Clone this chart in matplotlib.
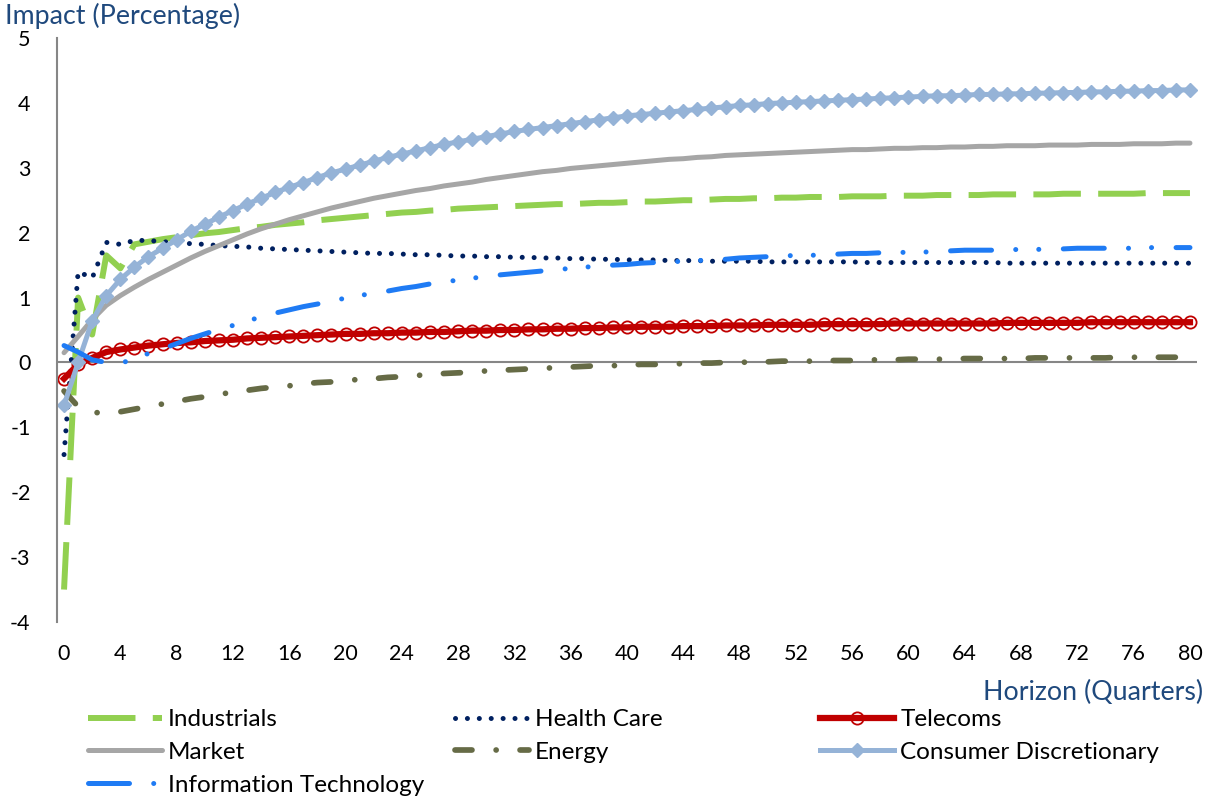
import numpy as np
import matplotlib
matplotlib.use('Agg')
import matplotlib.pyplot as plt

plt.rcParams['font.family'] = ['Lato', 'DejaVu Sans']
plt.rcParams['axes.unicode_minus'] = False

quarters = list(range(81))
xtick_labels = list(range(0, 81, 4))

industrials = [-3.5, 1.0, 0.43, 1.65, 1.45, 1.82, 1.86, 1.9, 1.93, 1.96,
               1.99, 2.01, 2.04, 2.07, 2.09, 2.12, 2.14, 2.16, 2.19, 2.21,
               2.23, 2.25, 2.27, 2.29, 2.31, 2.32, 2.34, 2.35, 2.37, 2.38,
               2.39, 2.4, 2.41, 2.42, 2.43, 2.44, 2.44, 2.45, 2.46, 2.46,
               2.47, 2.48, 2.48, 2.49, 2.5, 2.5, 2.51, 2.52, 2.52, 2.53,
               2.53, 2.54, 2.54, 2.55, 2.55, 2.55, 2.56, 2.56, 2.56, 2.57,
               2.57, 2.57, 2.58, 2.58, 2.58, 2.58, 2.59, 2.59, 2.59, 2.59,
               2.59, 2.6, 2.6, 2.6, 2.6, 2.6, 2.6, 2.61, 2.61, 2.61, 2.61]

health_care = [-1.42, 1.4, 1.3, 1.85, 1.82, 1.88, 1.88, 1.86, 1.85, 1.83,
               1.82, 1.8, 1.79, 1.78, 1.76, 1.75, 1.74, 1.73, 1.72, 1.71,
               1.7, 1.69, 1.68, 1.68, 1.67, 1.66, 1.66, 1.65, 1.64, 1.64,
               1.63, 1.63, 1.62, 1.62, 1.61, 1.61, 1.6, 1.6, 1.59, 1.59,
               1.58, 1.58, 1.58, 1.57, 1.57, 1.57, 1.56, 1.56, 1.56, 1.56,
               1.55, 1.55, 1.55, 1.55, 1.55, 1.55, 1.55, 1.54, 1.54, 1.54,
               1.54, 1.54, 1.54, 1.54, 1.54, 1.54, 1.54, 1.53, 1.53, 1.53,
               1.53, 1.53, 1.53, 1.53, 1.53, 1.53, 1.53, 1.53, 1.53, 1.53, 1.53]

telecoms = [-0.25, -0.03, 0.07, 0.16, 0.2, 0.23, 0.26, 0.28, 0.3, 0.31,
            0.33, 0.34, 0.35, 0.37, 0.38, 0.39, 0.4, 0.41, 0.42, 0.43,
            0.44, 0.44, 0.45, 0.45, 0.46, 0.46, 0.47, 0.47, 0.48, 0.49,
            0.49, 0.5, 0.5, 0.51, 0.51, 0.52, 0.52, 0.53, 0.53, 0.54,
            0.54, 0.55, 0.55, 0.55, 0.56, 0.56, 0.56, 0.57, 0.57, 0.57,
            0.58, 0.58, 0.58, 0.58, 0.59, 0.59, 0.59, 0.59, 0.59, 0.6,
            0.6, 0.6, 0.6, 0.6, 0.6, 0.6, 0.6, 0.61, 0.61, 0.61,
            0.61, 0.61, 0.61, 0.62, 0.62, 0.62, 0.62, 0.62, 0.62, 0.62, 0.62]

market = [0.15, 0.4, 0.66, 0.88, 1.03, 1.16, 1.28, 1.39, 1.5, 1.61,
          1.71, 1.8, 1.89, 1.98, 2.06, 2.13, 2.2, 2.26, 2.32, 2.38,
          2.43, 2.48, 2.53, 2.57, 2.61, 2.65, 2.68, 2.72, 2.75, 2.78,
          2.82, 2.85, 2.88, 2.91, 2.94, 2.96, 2.99, 3.01, 3.03, 3.05,
          3.07, 3.09, 3.11, 3.13, 3.14, 3.16, 3.17, 3.19, 3.2, 3.21,
          3.22, 3.23, 3.24, 3.25, 3.26, 3.27, 3.28, 3.28, 3.29, 3.3,
          3.3, 3.31, 3.31, 3.32, 3.32, 3.33, 3.33, 3.34, 3.34, 3.34,
          3.35, 3.35, 3.35, 3.36, 3.36, 3.36, 3.37, 3.37, 3.37, 3.38, 3.38]

energy = [-0.44, -0.68, -0.77, -0.78, -0.76, -0.72, -0.68, -0.64, -0.6, -0.56,
          -0.53, -0.49, -0.46, -0.43, -0.4, -0.38, -0.36, -0.33, -0.31, -0.3,
          -0.28, -0.26, -0.25, -0.23, -0.22, -0.2, -0.19, -0.17, -0.16, -0.15,
          -0.13, -0.12, -0.11, -0.1, -0.09, -0.08, -0.07, -0.06, -0.05, -0.05,
          -0.04, -0.03, -0.03, -0.02, -0.02, -0.01, -0.01, 0.0, 0.0, 0.01,
          0.01, 0.02, 0.02, 0.02, 0.03, 0.03, 0.03, 0.04, 0.04, 0.04,
          0.05, 0.05, 0.05, 0.05, 0.06, 0.06, 0.06, 0.06, 0.06, 0.07,
          0.07, 0.07, 0.07, 0.07, 0.07, 0.08, 0.08, 0.08, 0.08, 0.08, 0.08]

consumer_disc = [-0.66, 0.0, 0.64, 1.03, 1.28, 1.47, 1.63, 1.76, 1.89, 2.02,
                 2.13, 2.24, 2.34, 2.44, 2.53, 2.62, 2.7, 2.77, 2.85, 2.92,
                 2.98, 3.04, 3.1, 3.16, 3.21, 3.26, 3.31, 3.36, 3.4, 3.44,
                 3.48, 3.52, 3.56, 3.59, 3.62, 3.65, 3.68, 3.71, 3.74, 3.77,
                 3.8, 3.82, 3.84, 3.86, 3.88, 3.9, 3.92, 3.94, 3.96, 3.97,
                 3.99, 4.0, 4.01, 4.02, 4.03, 4.04, 4.05, 4.06, 4.07, 4.08,
                 4.09, 4.1, 4.11, 4.11, 4.12, 4.13, 4.13, 4.14, 4.14, 4.15,
                 4.15, 4.16, 4.16, 4.17, 4.17, 4.18, 4.18, 4.19, 4.19, 4.2, 4.2]

info_tech = [0.26, 0.16, 0.04, 0.0, -0.01, 0.05, 0.14, 0.21, 0.29, 0.37,
             0.44, 0.51, 0.57, 0.64, 0.7, 0.76, 0.81, 0.86, 0.9, 0.95,
             0.99, 1.03, 1.07, 1.1, 1.14, 1.17, 1.21, 1.24, 1.27, 1.3,
             1.32, 1.35, 1.37, 1.39, 1.41, 1.43, 1.45, 1.47, 1.48, 1.5,
             1.51, 1.53, 1.54, 1.55, 1.56, 1.57, 1.58, 1.59, 1.61, 1.62,
             1.63, 1.64, 1.65, 1.65, 1.66, 1.67, 1.68, 1.68, 1.69, 1.69,
             1.7, 1.7, 1.71, 1.72, 1.73, 1.73, 1.73, 1.74, 1.74, 1.74,
             1.75, 1.75, 1.76, 1.76, 1.76, 1.76, 1.76, 1.77, 1.77, 1.77, 1.77]

W, H = 1205, 799
fig = plt.figure(figsize=(W / 100, H / 100), dpi=100)
ax = fig.add_axes([57 / W, 1 - 622 / H, (1197 - 57) / W, (622 - 38) / H])

# series drawn in Excel order, later ones on top
lines = {}
lines['Industrials'], = ax.plot(quarters, industrials, color='#92D050', lw=4.3,
                                dashes=(7.95, 2.9), dash_capstyle='butt')
lines['Health Care'], = ax.plot(quarters, health_care, color='#002060', lw=3.6,
                                dashes=(0.01, 2.37), dash_capstyle='round')
lines['Telecoms'], = ax.plot(quarters, telecoms, color='#C00000', lw=4.5,
                             marker='o', ms=8.8, mfc='none', mec='#C00000', mew=1.3)
lines['Market'], = ax.plot(quarters, market, color='#A6A6A6', lw=3.6,
                           solid_capstyle='round')
lines['Energy'], = ax.plot(quarters, energy, color='#666B46', lw=4.1,
                           dashes=(2.98, 4.24, 0.01, 4.19), dash_capstyle='round')
lines['Consumer Discretionary'], = ax.plot(quarters, consumer_disc, color='#95B3D7', lw=3.6,
                                           marker='D', ms=6.8, mfc='#95B3D7',
                                           mec='#95B3D7', mew=1)
lines['Information Technology'], = ax.plot(quarters, info_tech, color='#1F7BF4', lw=3.6,
                                           dashes=(8.2, 4.84, 0.01, 4.6, 0.01, 4.9),
                                           dash_capstyle='round')

ax.set_xlim(-0.5, 80.5)
ax.set_ylim(-4, 5)
ax.set_xticks(xtick_labels)
ax.set_yticks(range(-4, 6))
ax.tick_params(length=0, labelsize=15.5, colors='black')
ax.tick_params(axis='y', pad=19)
ax.tick_params(axis='x', pad=16)
for s in ['top', 'right', 'bottom']:
    ax.spines[s].set_visible(False)
ax.spines['left'].set_color('#868686')
ax.spines['left'].set_linewidth(1.5)
ax.axhline(0, color='#868686', lw=1.5, zorder=1)

fig.text(5 / W, 1 - 3 / H, 'Impact (Percentage)', color='#1F497D', fontsize=19.3,
         ha='left', va='top')
fig.text(1203 / W, 1 - 692 / H, 'Horizon (Quarters)', color='#1F497D', fontsize=19.3,
         ha='right', va='center')

cols = [(88, ['Industrials', 'Market', 'Information Technology']),
        (455, ['Health Care', 'Energy']),
        (820, ['Telecoms', 'Consumer Discretionary'])]
for x0, names in cols:
    fig.legend([lines[n] for n in names], names, loc='upper left',
               bbox_to_anchor=(x0 / W, 1 - 709 / H), frameon=False,
               fontsize=17.5, handlelength=3.05, handletextpad=0.25,
               labelspacing=0.49, borderpad=0, borderaxespad=0)

fig.savefig('out.png', dpi=100)
